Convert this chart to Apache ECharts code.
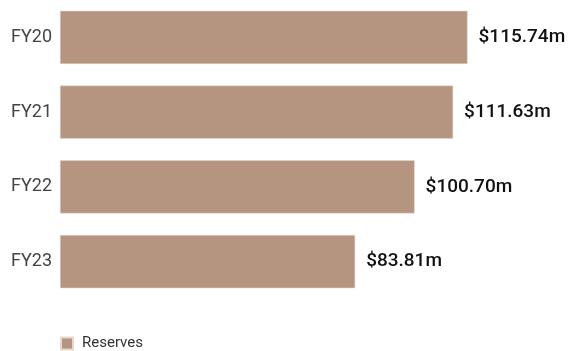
<!DOCTYPE html>
<html>
<head>
<meta charset="utf-8">
<script src="https://cdn.jsdelivr.net/npm/echarts@6/dist/echarts.min.js"></script>
<style>html,body{margin:0;padding:0;background:#fff}#c{width:574px;height:351px}</style>
</head>
<body>
<div id="c"></div>
<script>
var categories = ['FY20', 'FY21', 'FY22', 'FY23'];
var reserves = [115.74, 111.63, 100.70, 83.81];
var seriesName = 'Reserves';

var chart = echarts.init(document.getElementById('c'), null, {renderer: 'canvas'});
chart.setOption({
  animation: false,
  backgroundColor: '#ffffff',
  grid: {left: 60, right: 21, top: -1, height: 300, containLabel: false},
  xAxis: {type: 'value', min: 0, max: 140, show: false},
  yAxis: {
    type: 'category', data: categories, inverse: true,
    axisLine: {show: false}, axisTick: {show: false}, splitLine: {show: false},
    axisLabel: {color: '#444', fontFamily: 'Roboto', fontSize: 18, margin: 8}
  },
  legend: {
    left: 55, top: 331, itemWidth: 12, itemHeight: 12, itemGap: 10,
    icon: 'rect',
    textStyle: {color: '#333', fontFamily: 'Roboto', fontSize: 15, padding: [0, 0, 0, 4]}
  },
  series: [{
    name: seriesName, type: 'bar', data: reserves,
    barCategoryGap: '29%',
    itemStyle: {color: '#b5957f', borderColor: '#e5d8cd', borderWidth: 0.5},
    label: {
      show: true, position: 'right', distance: 11,
      color: '#111', fontFamily: 'Roboto', fontSize: 19, fontWeight: 500,
      formatter: function (p) { return '$' + p.value.toFixed(2) + 'm'; }
    }
  }]
});
</script>
</body>
</html>
